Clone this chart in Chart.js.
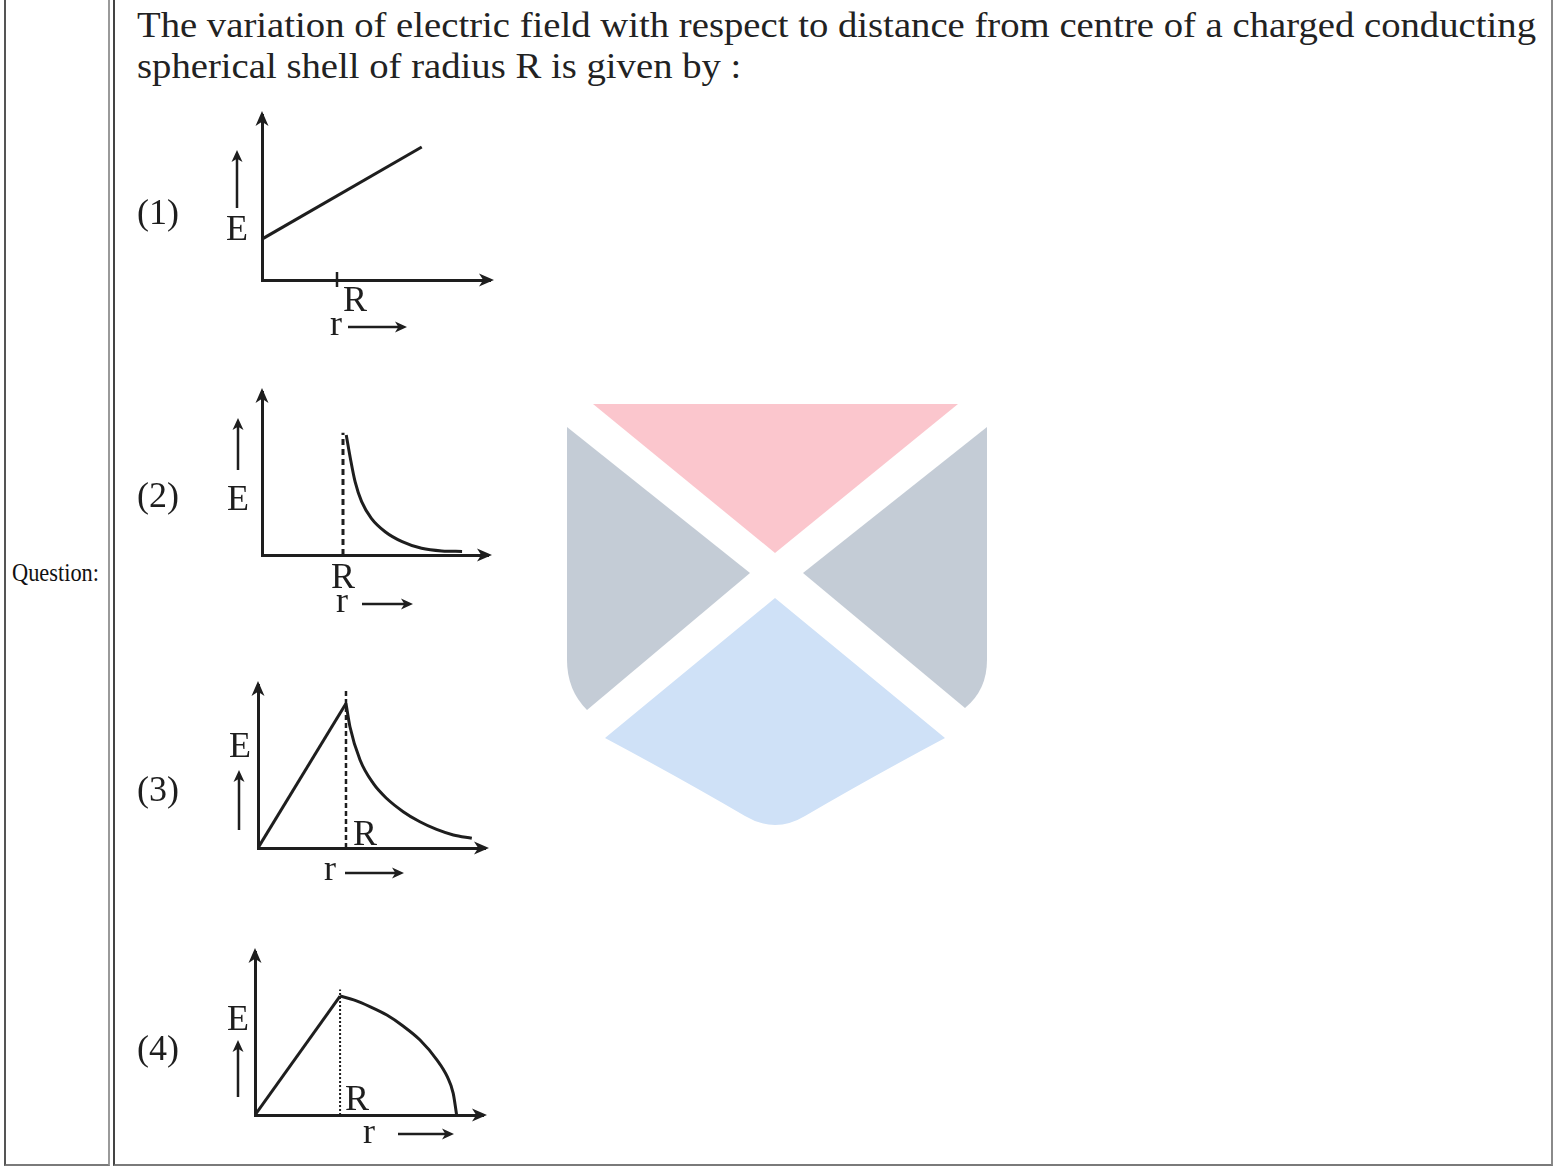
<!DOCTYPE html>
<html>
<head>
<meta charset="utf-8">
<script src="https://cdn.jsdelivr.net/npm/chart.js"></script>
<style>
  html, body { margin: 0; padding: 0; background: #fff; }
  body { position: relative; width: 1554px; height: 1168px; overflow: hidden; font-family: "Liberation Serif", serif; color: #222; }
  .cell { position: absolute; box-sizing: border-box; top: -10px; height: 1176px; border-bottom: 2px solid #7a7a7a; }
  #cellL { left: 4px; width: 106px; border-left: 2px solid #555; border-right: 2px solid #9a9a9a; }
  #cellR { left: 113px; width: 1440px; border-left: 2px solid #444; border-right: 2px solid #8a8a8a; }
  .txt { position: absolute; white-space: nowrap; transform-origin: 0 0; }
  .q { font-size: 36px; line-height: 36px; left: 137px; }
  #qlabel { left: 12px; top: 560px; font-size: 26px; line-height: 26px; color: #111; }
  canvas { position: absolute; left: 130px; }
  #mark { position: absolute; left: 0; top: 0; }
</style>
</head>
<body>
<svg id="mark" width="1554" height="1168">
  <path d="M593,404 L958,404 L775,553 Z" fill="#fbc6cd"/>
  <path d="M567,427 L750,573 L587,710 Q567,690 567,660 Z" fill="#c4ccd6"/>
  <path d="M987,427 L803,573 L965,708 Q987,690 987,660 Z" fill="#c4ccd6"/>
  <path d="M775,598 L945,738 Q870,778 805,816 Q775,834 745,816 Q680,778 605,738 Z" fill="#cfe1f7"/>
</svg>
<div class="cell" id="cellL"></div>
<div class="cell" id="cellR"></div>
<div class="txt" id="qlabel">Question:</div>
<div class="txt q" id="line1" style="top:7px">The variation of electric field with respect to distance from centre of a charged conducting</div>
<div class="txt q" id="line2" style="top:48px">spherical shell of radius R is given by :</div>

<canvas id="g1" width="370" height="250" style="top:100px"></canvas>
<canvas id="g2" width="370" height="250" style="top:375px"></canvas>
<canvas id="g3" width="370" height="230" style="top:670px"></canvas>
<canvas id="g4" width="370" height="215" style="top:940px"></canvas>

<script>
// E axis runs 0..10 (arbitrary units), r is in units of R
const eMax = 10;
const rMax = [3.04, 2.79, 2.58, 2.68];

// (1) straight line
const r1 = [0, 2.13];
const e1 = [2.48, 8.06];

// (2) zero inside, falls off outside
const r2 = [1.04, 1.09, 1.15, 1.23, 1.35, 1.52, 1.73, 1.97, 2.22, 2.47];
const e2 = [7.36, 5.95, 4.48, 3.27, 2.25, 1.43, 0.82, 0.41, 0.25, 0.22];
const dash2 = [0, 7.5];

// (3) rises linearly, then falls
const r3lin = [0, 1];
const e3lin = [0, 8.87];
const r3 = [1, 1.045, 1.16, 1.31, 1.46, 1.65, 1.84, 2.03, 2.22, 2.43];
const e3 = [8.87, 7.44, 5.40, 3.96, 3.05, 2.23, 1.61, 1.14, 0.80, 0.60];
const dash3 = [0, 9.7];

// (4) rises linearly, then drops to zero
const r4lin = [0, 1];
const e4lin = [0, 7.3];
const r4 = [1, 1.16, 1.35, 1.55, 1.74, 1.94, 2.14, 2.26, 2.33, 2.37];
const e4 = [7.3, 7.06, 6.65, 6.13, 5.46, 4.6, 3.37, 2.35, 1.33, 0];
const dash4 = [0, 7.7];

const ink = "#1e1e1e";
const labelFont = "36px 'Liberation Serif', serif";

function pts(rs, es) {
  return rs.map((r, i) => ({ x: r, y: es[i] }));
}

function head(ctx, x, y, dir, len, half) {
  ctx.beginPath();
  if (dir === "up") {
    ctx.moveTo(x, y);
    ctx.lineTo(x - half, y + len);
    ctx.lineTo(x, y + len * 0.72);
    ctx.lineTo(x + half, y + len);
  } else {
    ctx.moveTo(x, y);
    ctx.lineTo(x - len, y - half);
    ctx.lineTo(x - len * 0.72, y);
    ctx.lineTo(x - len, y + half);
  }
  ctx.closePath();
  ctx.fill();
}

const sketchPlugin = {
  id: "sketch",
  afterDraw(chart, args, o) {
    const { ctx, chartArea: a } = chart;
    const xs = chart.scales.x;
    ctx.save();
    ctx.fillStyle = ink;
    ctx.strokeStyle = ink;
    // axis arrow heads
    head(ctx, a.left, a.top - 4, "up", 15, 6.5);
    head(ctx, a.right + 4, a.bottom, "right", 15, 6.5);
    const rPix = xs.getPixelForValue(1);
    if (o.tick) {
      ctx.lineWidth = 2.5;
      ctx.beginPath();
      ctx.moveTo(rPix, a.bottom - 8);
      ctx.lineTo(rPix, a.bottom + 7);
      ctx.stroke();
    }
    // small arrows next to E and r
    ctx.lineWidth = 2.5;
    ctx.beginPath();
    ctx.moveTo(o.up[0], o.up[1]);
    ctx.lineTo(o.up[0], o.up[2] + 6);
    ctx.moveTo(o.right[0], o.right[2]);
    ctx.lineTo(o.right[1] - 6, o.right[2]);
    ctx.stroke();
    head(ctx, o.up[0], o.up[2], "up", 12, 5.5);
    head(ctx, o.right[1], o.right[2], "right", 12, 5.5);
    // labels
    ctx.font = labelFont;
    ctx.textBaseline = "alphabetic";
    ctx.textAlign = "left";
    ctx.fillText(o.num, o.numAt[0], o.numAt[1]);
    ctx.fillText("r", o.rText[0], o.rText[1]);
    ctx.textAlign = "center";
    ctx.fillText("E", o.e[0], o.e[1]);
    ctx.fillText("R", rPix + o.rDx, o.rY);
    ctx.restore();
  }
};

function line(data, extra) {
  return Object.assign({ data, showLine: true, borderColor: ink, borderWidth: 3, pointRadius: 0, tension: 0, fill: false }, extra || {});
}
const smooth = { cubicInterpolationMode: "monotone" };

function axis(max) {
  return {
    type: "linear", min: 0, max: max,
    grid: { display: false, drawTicks: false },
    ticks: { display: false },
    border: { display: true, color: ink, width: 3 }
  };
}

function makeChart(id, datasets, xMax, pad, sketch) {
  return new Chart(document.getElementById(id), {
    type: "scatter",
    data: { datasets },
    options: {
      responsive: false,
      animation: false,
      devicePixelRatio: 1,
      layout: { padding: pad },
      plugins: { legend: { display: false }, tooltip: { enabled: false }, sketch },
      scales: { x: axis(xMax), y: axis(eMax) }
    },
    plugins: [sketchPlugin]
  });
}

makeChart("g1", [line(pts(r1, e1))], rMax[0],
  { left: 132, right: 10, top: 15, bottom: 70 },
  { num: "(1)", numAt: [7, 124], e: [107, 140], up: [107, 108, 50], rDx: 18, rY: 211, rText: [200, 235], right: [218, 277, 227], tick: true });

makeChart("g2", [
    line(pts([1, 1], dash2), { borderWidth: 3, borderDash: [6, 4] }),
    line(pts(r2, e2), smooth)
  ], rMax[1],
  { left: 132, right: 12, top: 17, bottom: 70 },
  { num: "(2)", numAt: [7, 132], e: [108, 135], up: [108, 95, 43], rDx: 0, rY: 213, rText: [206, 237], right: [232, 283, 229] });

makeChart("g3", [
    line(pts([1, 1], dash3), { borderWidth: 2.5, borderDash: [5, 3] }),
    line(pts(r3lin, e3lin)),
    line(pts(r3, e3), smooth)
  ], rMax[2],
  { left: 128, right: 15, top: 15, bottom: 52 },
  { num: "(3)", numAt: [7, 131], e: [110, 87], up: [109, 160, 100], rDx: 19, rY: 175, rText: [194, 210], right: [215, 274, 203] });

makeChart("g4", [
    line(pts([1, 1], dash4), { borderWidth: 2, borderDash: [2, 2] }),
    line(pts(r4lin, e4lin)),
    line(pts(r4, e4), smooth)
  ], rMax[3],
  { left: 125, right: 17, top: 12, bottom: 40 },
  { num: "(4)", numAt: [7, 120], e: [108, 90], up: [108, 157, 100], rDx: 17, rY: 170, rText: [233, 203], right: [268, 324, 194] });

// fit the text lines to the widths seen in the reference
function fitWidth(el, w) {
  const k = w / el.getBoundingClientRect().width;
  el.style.transform = "scaleX(" + k + ")";
  return k;
}
const k = fitWidth(document.getElementById("line1"), 1399);
document.getElementById("line2").style.transform = "scaleX(" + k + ")";
fitWidth(document.getElementById("qlabel"), 87);
</script>
</body>
</html>
